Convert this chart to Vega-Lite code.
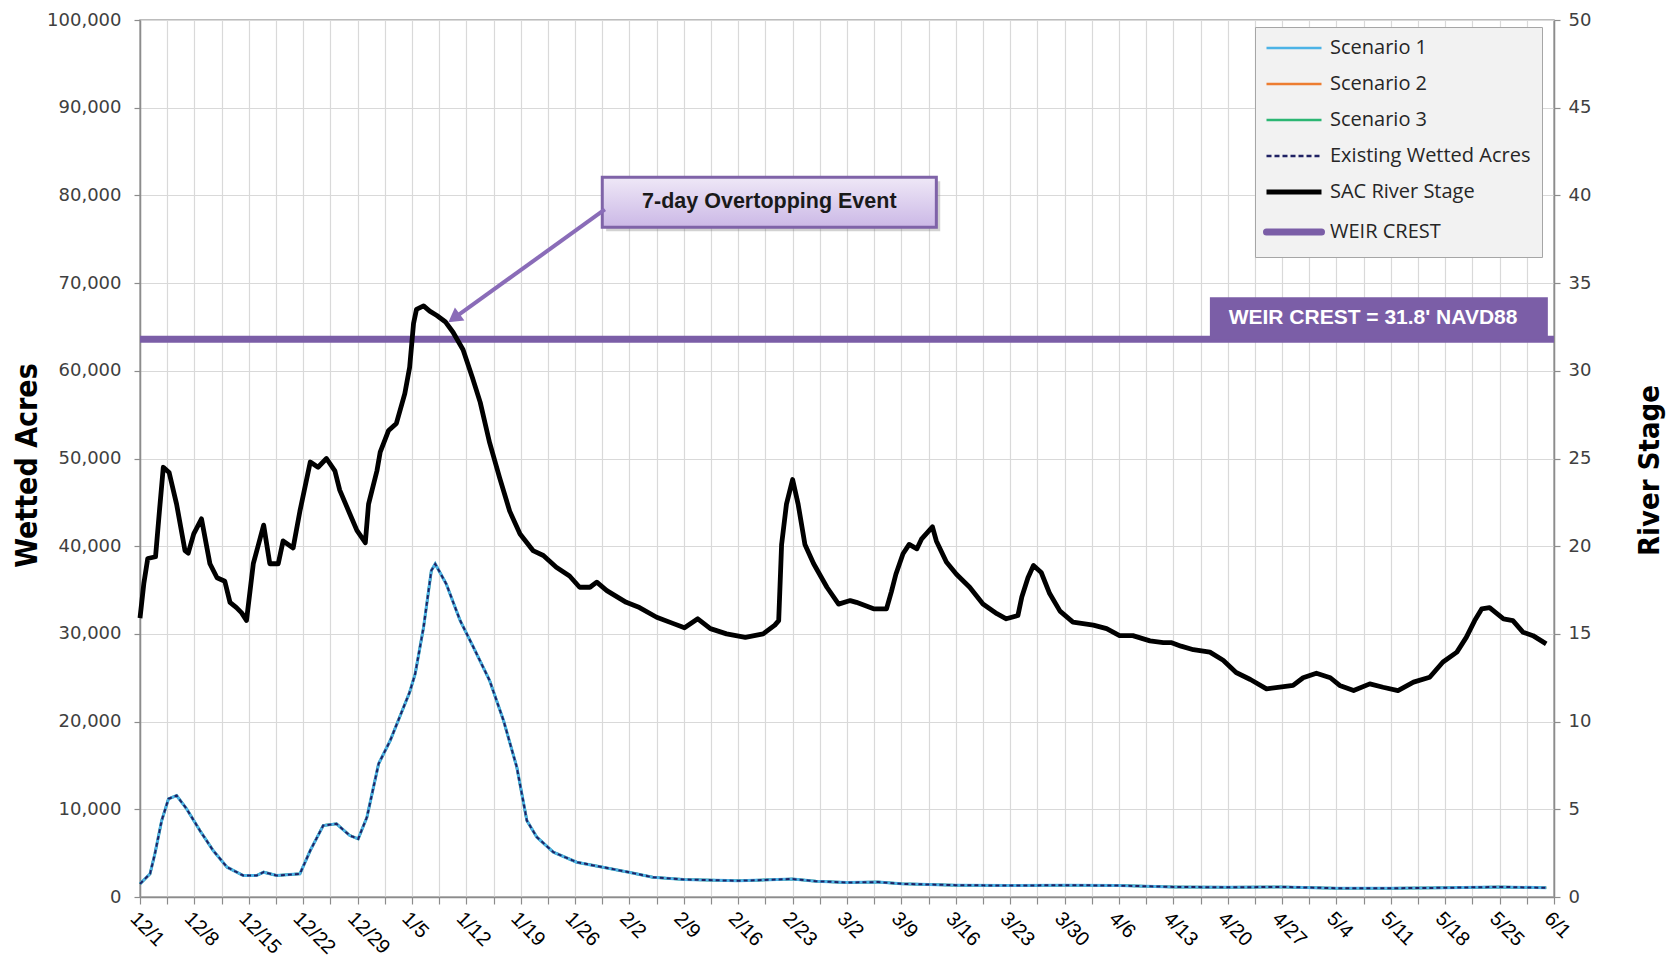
{
  "$schema": "https://vega.github.io/schema/vega-lite/v6.json",
  "width": 1414,
  "height": 877,
  "autosize": {"type": "none"},
  "padding": {"left": 140, "top": 20, "right": 124, "bottom": 70},
  "background": "#ffffff",
  "config": {
    "view": {"stroke": "#a6a6a6", "strokeWidth": 1.5},
    "axis": {"gridColor": "#d9d9d9", "gridWidth": 1.2, "domainColor": "#8c8c8c", "domainWidth": 1.5, "tickColor": "#8c8c8c", "tickWidth": 1.2}
  },
  "datasets": {
    "stage": [
      {"date": "2013-12-01T00:00", "stage": 15.9},
      {"date": "2013-12-01T12:00", "stage": 17.9},
      {"date": "2013-12-02T00:00", "stage": 19.3},
      {"date": "2013-12-03T00:00", "stage": 19.4},
      {"date": "2013-12-03T12:00", "stage": 22.0},
      {"date": "2013-12-04T00:00", "stage": 24.5},
      {"date": "2013-12-04T18:00", "stage": 24.2},
      {"date": "2013-12-05T17:00", "stage": 22.4},
      {"date": "2013-12-06T19:00", "stage": 19.75},
      {"date": "2013-12-07T05:00", "stage": 19.6},
      {"date": "2013-12-07T22:00", "stage": 20.7},
      {"date": "2013-12-08T22:00", "stage": 21.56},
      {"date": "2013-12-10T00:00", "stage": 19.0},
      {"date": "2013-12-10T22:00", "stage": 18.2},
      {"date": "2013-12-11T22:00", "stage": 18.0},
      {"date": "2013-12-12T14:00", "stage": 16.8},
      {"date": "2013-12-13T10:00", "stage": 16.5},
      {"date": "2013-12-14T02:00", "stage": 16.2},
      {"date": "2013-12-14T17:00", "stage": 15.76},
      {"date": "2013-12-15T14:00", "stage": 19.0},
      {"date": "2013-12-16T22:00", "stage": 21.2},
      {"date": "2013-12-17T17:00", "stage": 19.0},
      {"date": "2013-12-18T19:00", "stage": 19.0},
      {"date": "2013-12-19T10:00", "stage": 20.3},
      {"date": "2013-12-20T17:00", "stage": 19.9},
      {"date": "2013-12-21T14:00", "stage": 22.0},
      {"date": "2013-12-22T22:00", "stage": 24.8},
      {"date": "2013-12-23T22:00", "stage": 24.5},
      {"date": "2013-12-25T00:00", "stage": 25.0},
      {"date": "2013-12-26T02:00", "stage": 24.3},
      {"date": "2013-12-26T17:00", "stage": 23.2},
      {"date": "2013-12-28T00:00", "stage": 21.85},
      {"date": "2013-12-28T22:00", "stage": 20.9},
      {"date": "2013-12-30T00:00", "stage": 20.2},
      {"date": "2013-12-30T10:00", "stage": 22.4},
      {"date": "2013-12-31T12:00", "stage": 24.3},
      {"date": "2013-12-31T22:00", "stage": 25.36},
      {"date": "2014-01-02T00:00", "stage": 26.6},
      {"date": "2014-01-03T00:00", "stage": 27.0},
      {"date": "2014-01-04T02:00", "stage": 28.7},
      {"date": "2014-01-04T17:00", "stage": 30.2},
      {"date": "2014-01-05T05:00", "stage": 32.7},
      {"date": "2014-01-05T14:00", "stage": 33.5},
      {"date": "2014-01-06T12:00", "stage": 33.7},
      {"date": "2014-01-07T07:00", "stage": 33.4},
      {"date": "2014-01-08T05:00", "stage": 33.15},
      {"date": "2014-01-09T07:00", "stage": 32.8},
      {"date": "2014-01-10T07:00", "stage": 32.2},
      {"date": "2014-01-11T14:00", "stage": 31.2},
      {"date": "2014-01-12T19:00", "stage": 29.6},
      {"date": "2014-01-13T19:00", "stage": 28.2},
      {"date": "2014-01-15T00:00", "stage": 25.9},
      {"date": "2014-01-16T07:00", "stage": 23.9},
      {"date": "2014-01-17T14:00", "stage": 22.0},
      {"date": "2014-01-18T22:00", "stage": 20.7},
      {"date": "2014-01-20T14:00", "stage": 19.75},
      {"date": "2014-01-21T22:00", "stage": 19.47},
      {"date": "2014-01-23T14:00", "stage": 18.8},
      {"date": "2014-01-25T07:00", "stage": 18.3},
      {"date": "2014-01-26T14:00", "stage": 17.66},
      {"date": "2014-01-27T22:00", "stage": 17.66},
      {"date": "2014-01-28T19:00", "stage": 17.95},
      {"date": "2014-01-30T02:00", "stage": 17.47},
      {"date": "2014-02-01T14:00", "stage": 16.8},
      {"date": "2014-02-03T07:00", "stage": 16.5},
      {"date": "2014-02-05T12:00", "stage": 15.95},
      {"date": "2014-02-07T14:00", "stage": 15.6},
      {"date": "2014-02-09T02:00", "stage": 15.35},
      {"date": "2014-02-10T19:00", "stage": 15.86},
      {"date": "2014-02-12T10:00", "stage": 15.3},
      {"date": "2014-02-14T12:00", "stage": 15.0},
      {"date": "2014-02-16T22:00", "stage": 14.8},
      {"date": "2014-02-19T05:00", "stage": 15.0},
      {"date": "2014-02-20T17:00", "stage": 15.5},
      {"date": "2014-02-21T05:00", "stage": 15.76},
      {"date": "2014-02-21T14:00", "stage": 20.1},
      {"date": "2014-02-22T05:00", "stage": 22.4},
      {"date": "2014-02-23T00:00", "stage": 23.8},
      {"date": "2014-02-23T17:00", "stage": 22.4},
      {"date": "2014-02-24T14:00", "stage": 20.1},
      {"date": "2014-02-25T17:00", "stage": 19.0},
      {"date": "2014-02-27T10:00", "stage": 17.66},
      {"date": "2014-02-28T22:00", "stage": 16.7},
      {"date": "2014-03-02T10:00", "stage": 16.9},
      {"date": "2014-03-03T05:00", "stage": 16.8},
      {"date": "2014-03-05T10:00", "stage": 16.43},
      {"date": "2014-03-07T02:00", "stage": 16.43},
      {"date": "2014-03-07T17:00", "stage": 17.4},
      {"date": "2014-03-08T07:00", "stage": 18.4},
      {"date": "2014-03-09T05:00", "stage": 19.57},
      {"date": "2014-03-10T00:00", "stage": 20.1},
      {"date": "2014-03-11T00:00", "stage": 19.85},
      {"date": "2014-03-11T14:00", "stage": 20.4},
      {"date": "2014-03-13T00:00", "stage": 21.1},
      {"date": "2014-03-13T12:00", "stage": 20.3},
      {"date": "2014-03-14T19:00", "stage": 19.1},
      {"date": "2014-03-16T02:00", "stage": 18.4},
      {"date": "2014-03-17T19:00", "stage": 17.66},
      {"date": "2014-03-19T12:00", "stage": 16.7},
      {"date": "2014-03-21T07:00", "stage": 16.15},
      {"date": "2014-03-22T12:00", "stage": 15.86},
      {"date": "2014-03-24T00:00", "stage": 16.05},
      {"date": "2014-03-24T12:00", "stage": 17.1},
      {"date": "2014-03-25T07:00", "stage": 18.2},
      {"date": "2014-03-26T00:00", "stage": 18.9},
      {"date": "2014-03-27T00:00", "stage": 18.5},
      {"date": "2014-03-28T02:00", "stage": 17.3},
      {"date": "2014-03-29T10:00", "stage": 16.3},
      {"date": "2014-03-31T02:00", "stage": 15.67},
      {"date": "2014-04-02T17:00", "stage": 15.5},
      {"date": "2014-04-04T10:00", "stage": 15.3},
      {"date": "2014-04-06T02:00", "stage": 14.9},
      {"date": "2014-04-07T19:00", "stage": 14.9},
      {"date": "2014-04-10T00:00", "stage": 14.6},
      {"date": "2014-04-11T17:00", "stage": 14.5},
      {"date": "2014-04-12T19:00", "stage": 14.5},
      {"date": "2014-04-14T00:00", "stage": 14.3},
      {"date": "2014-04-15T14:00", "stage": 14.1},
      {"date": "2014-04-17T17:00", "stage": 13.96},
      {"date": "2014-04-19T10:00", "stage": 13.5},
      {"date": "2014-04-21T02:00", "stage": 12.8},
      {"date": "2014-04-22T22:00", "stage": 12.4},
      {"date": "2014-04-25T00:00", "stage": 11.87},
      {"date": "2014-04-26T17:00", "stage": 11.96},
      {"date": "2014-04-28T10:00", "stage": 12.06},
      {"date": "2014-04-29T17:00", "stage": 12.5},
      {"date": "2014-05-01T10:00", "stage": 12.76},
      {"date": "2014-05-03T05:00", "stage": 12.5},
      {"date": "2014-05-04T10:00", "stage": 12.06},
      {"date": "2014-05-06T05:00", "stage": 11.77},
      {"date": "2014-05-08T07:00", "stage": 12.15},
      {"date": "2014-05-10T00:00", "stage": 11.96},
      {"date": "2014-05-11T22:00", "stage": 11.77},
      {"date": "2014-05-13T22:00", "stage": 12.25},
      {"date": "2014-05-16T00:00", "stage": 12.53},
      {"date": "2014-05-17T17:00", "stage": 13.4},
      {"date": "2014-05-19T12:00", "stage": 13.96},
      {"date": "2014-05-20T17:00", "stage": 14.8},
      {"date": "2014-05-21T19:00", "stage": 15.76},
      {"date": "2014-05-22T17:00", "stage": 16.43},
      {"date": "2014-05-23T17:00", "stage": 16.5},
      {"date": "2014-05-25T12:00", "stage": 15.86},
      {"date": "2014-05-26T17:00", "stage": 15.76},
      {"date": "2014-05-28T00:00", "stage": 15.1},
      {"date": "2014-05-29T07:00", "stage": 14.9},
      {"date": "2014-05-31T00:00", "stage": 14.43}
    ],
    "acres": [
      {"date": "2013-12-01T00:00", "acres": 1500},
      {"date": "2013-12-02T07:00", "acres": 2640},
      {"date": "2013-12-02T22:00", "acres": 4920},
      {"date": "2013-12-03T19:00", "acres": 8720},
      {"date": "2013-12-04T16:00", "acres": 11190},
      {"date": "2013-12-05T17:00", "acres": 11570},
      {"date": "2013-12-07T00:00", "acres": 10050},
      {"date": "2013-12-08T17:00", "acres": 7580},
      {"date": "2013-12-10T10:00", "acres": 5300},
      {"date": "2013-12-12T05:00", "acres": 3400},
      {"date": "2013-12-14T07:00", "acres": 2450},
      {"date": "2013-12-16T00:00", "acres": 2450},
      {"date": "2013-12-16T22:00", "acres": 2830},
      {"date": "2013-12-18T14:00", "acres": 2450},
      {"date": "2013-12-21T14:00", "acres": 2640},
      {"date": "2013-12-22T22:00", "acres": 5300},
      {"date": "2013-12-24T14:00", "acres": 8150},
      {"date": "2013-12-26T07:00", "acres": 8340},
      {"date": "2013-12-28T00:00", "acres": 7010},
      {"date": "2013-12-29T02:00", "acres": 6630},
      {"date": "2013-12-30T05:00", "acres": 9100},
      {"date": "2013-12-31T17:00", "acres": 15180},
      {"date": "2014-01-02T05:00", "acres": 17840},
      {"date": "2014-01-03T12:00", "acres": 20690},
      {"date": "2014-01-04T17:00", "acres": 23350},
      {"date": "2014-01-05T10:00", "acres": 25440},
      {"date": "2014-01-06T12:00", "acres": 30760},
      {"date": "2014-01-07T12:00", "acres": 37220},
      {"date": "2014-01-08T00:00", "acres": 37980},
      {"date": "2014-01-09T10:00", "acres": 35700},
      {"date": "2014-01-11T05:00", "acres": 31520},
      {"date": "2014-01-12T22:00", "acres": 28480},
      {"date": "2014-01-15T00:00", "acres": 24680},
      {"date": "2014-01-16T19:00", "acres": 20120},
      {"date": "2014-01-18T12:00", "acres": 14800},
      {"date": "2014-01-19T19:00", "acres": 8720},
      {"date": "2014-01-21T02:00", "acres": 6820},
      {"date": "2014-01-23T05:00", "acres": 5110},
      {"date": "2014-01-26T05:00", "acres": 3970},
      {"date": "2014-01-29T14:00", "acres": 3400},
      {"date": "2014-02-02T02:00", "acres": 2800},
      {"date": "2014-02-05T00:00", "acres": 2250},
      {"date": "2014-02-09T00:00", "acres": 2000},
      {"date": "2014-02-16T00:00", "acres": 1850},
      {"date": "2014-02-23T00:00", "acres": 2050},
      {"date": "2014-02-26T00:00", "acres": 1800},
      {"date": "2014-03-02T00:00", "acres": 1650},
      {"date": "2014-03-06T00:00", "acres": 1700},
      {"date": "2014-03-09T00:00", "acres": 1500},
      {"date": "2014-03-16T00:00", "acres": 1350},
      {"date": "2014-03-23T00:00", "acres": 1300},
      {"date": "2014-03-30T00:00", "acres": 1350},
      {"date": "2014-04-06T00:00", "acres": 1300},
      {"date": "2014-04-13T00:00", "acres": 1150},
      {"date": "2014-04-20T00:00", "acres": 1100},
      {"date": "2014-04-27T00:00", "acres": 1150},
      {"date": "2014-05-04T00:00", "acres": 1000},
      {"date": "2014-05-11T00:00", "acres": 1000},
      {"date": "2014-05-18T00:00", "acres": 1050},
      {"date": "2014-05-25T00:00", "acres": 1150},
      {"date": "2014-05-31T00:00", "acres": 1050}
    ]
  },
  "encoding": {
    "x": {
      "field": "date",
      "type": "temporal",
      "scale": {"domain": [{"year": 2013, "month": 12, "date": 1}, {"year": 2014, "month": 6, "date": 1}]},
      "axis": {
        "title": null,
        "grid": true,
        "values": [
          {"year": 2013, "month": 12, "date": 1}, {"year": 2013, "month": 12, "date": 4, "hours": 12},
          {"year": 2013, "month": 12, "date": 8}, {"year": 2013, "month": 12, "date": 11, "hours": 12},
          {"year": 2013, "month": 12, "date": 15}, {"year": 2013, "month": 12, "date": 18, "hours": 12},
          {"year": 2013, "month": 12, "date": 22}, {"year": 2013, "month": 12, "date": 25, "hours": 12},
          {"year": 2013, "month": 12, "date": 29}, {"year": 2014, "month": 1, "date": 1, "hours": 12},
          {"year": 2014, "month": 1, "date": 5}, {"year": 2014, "month": 1, "date": 8, "hours": 12},
          {"year": 2014, "month": 1, "date": 12}, {"year": 2014, "month": 1, "date": 15, "hours": 12},
          {"year": 2014, "month": 1, "date": 19}, {"year": 2014, "month": 1, "date": 22, "hours": 12},
          {"year": 2014, "month": 1, "date": 26}, {"year": 2014, "month": 1, "date": 29, "hours": 12},
          {"year": 2014, "month": 2, "date": 2}, {"year": 2014, "month": 2, "date": 5, "hours": 12},
          {"year": 2014, "month": 2, "date": 9}, {"year": 2014, "month": 2, "date": 12, "hours": 12},
          {"year": 2014, "month": 2, "date": 16}, {"year": 2014, "month": 2, "date": 19, "hours": 12},
          {"year": 2014, "month": 2, "date": 23}, {"year": 2014, "month": 2, "date": 26, "hours": 12},
          {"year": 2014, "month": 3, "date": 2}, {"year": 2014, "month": 3, "date": 5, "hours": 12},
          {"year": 2014, "month": 3, "date": 9}, {"year": 2014, "month": 3, "date": 12, "hours": 12},
          {"year": 2014, "month": 3, "date": 16}, {"year": 2014, "month": 3, "date": 19, "hours": 12},
          {"year": 2014, "month": 3, "date": 23}, {"year": 2014, "month": 3, "date": 26, "hours": 12},
          {"year": 2014, "month": 3, "date": 30}, {"year": 2014, "month": 4, "date": 2, "hours": 12},
          {"year": 2014, "month": 4, "date": 6}, {"year": 2014, "month": 4, "date": 9, "hours": 12},
          {"year": 2014, "month": 4, "date": 13}, {"year": 2014, "month": 4, "date": 16, "hours": 12},
          {"year": 2014, "month": 4, "date": 20}, {"year": 2014, "month": 4, "date": 23, "hours": 12},
          {"year": 2014, "month": 4, "date": 27}, {"year": 2014, "month": 4, "date": 30, "hours": 12},
          {"year": 2014, "month": 5, "date": 4}, {"year": 2014, "month": 5, "date": 7, "hours": 12},
          {"year": 2014, "month": 5, "date": 11}, {"year": 2014, "month": 5, "date": 14, "hours": 12},
          {"year": 2014, "month": 5, "date": 18}, {"year": 2014, "month": 5, "date": 21, "hours": 12},
          {"year": 2014, "month": 5, "date": 25}, {"year": 2014, "month": 5, "date": 28, "hours": 12},
          {"year": 2014, "month": 6, "date": 1}
        ],
        "labelExpr": "hours(datum.value) == 12 ? '' : timeFormat(datum.value, '%-m/%-d')",
        "labelAngle": 45,
        "labelFont": "Liberation Sans",
        "labelFontSize": 20,
        "labelColor": "#000000",
        "labelPadding": 4,
        "labelOverlap": false,
        "labelBound": false,
        "tickSize": 7,
        "encode": {"ticks": {"update": {"opacity": {"signal": "hours(datum.value) == 12 ? 0 : 1"}}}}
      }
    }
  },
  "layer": [
    {
      "data": {"name": "acres"},
      "encoding": {
        "y": {
          "field": "acres",
          "type": "quantitative",
          "scale": {"domain": [0, 100000]},
          "axis": {
            "orient": "left",
            "title": "Wetted Acres",
            "format": ",d",
            "values": [0, 10000, 20000, 30000, 40000, 50000, 60000, 70000, 80000, 90000, 100000],
            "grid": true,
            "labelFont": "DejaVu Sans",
            "labelFontSize": 18,
            "labelColor": "#404040",
            "labelPadding": 13,
            "tickSize": 6,
            "titleFont": "Liberation Sans Narrow, DejaVu Sans Condensed, sans-serif",
            "titleFontSize": 30,
            "titleFontWeight": "bold",
            "titleColor": "#000000",
            "titlePadding": 4,
            "titleY": 445
          }
        }
      },
      "layer": [
        {
          "mark": {"type": "line", "strokeWidth": 2.5},
          "encoding": {
            "color": {
              "datum": "Scenario 2",
              "type": "nominal",
              "scale": {
                "domain": ["Scenario 1", "Scenario 2", "Scenario 3", "Existing Wetted Acres", "SAC River Stage", "WEIR CREST"],
                "range": ["#4cb3e6", "#ed7d31", "#2bb673", "#1f2163", "#000000", "#7b5ea7"]
              },
              "legend": {
                "title": null,
                "orient": "none",
                "legendX": 1115,
                "legendY": 7,
                "symbolType": "stroke",
                "symbolSize": 3025,
                "symbolStrokeWidth": 2.5,
                "symbolOffset": 18,
                "labelFont": "Open Sans",
                "labelFontSize": 20,
                "labelColor": "#262626",
                "labelOffset": 26,
                "labelLimit": 400,
                "rowPadding": 16,
                "padding": 11,
                "fillColor": "#f2f2f2",
                "strokeColor": "#a6a6a6",
                "encode": {
                  "symbols": {
                    "update": {
                      "strokeWidth": {"signal": "datum.value == 'SAC River Stage' ? 5 : datum.value == 'WEIR CREST' ? 7 : 2.5"},
                      "strokeDash": {"signal": "datum.value == 'Existing Wetted Acres' ? [5, 3] : [1, 0]"},
                      "strokeCap": {"signal": "datum.value == 'WEIR CREST' ? 'round' : 'butt'"}
                    }
                  }
                }
              }
            }
          }
        },
        {
          "mark": {"type": "line", "strokeWidth": 2.5},
          "encoding": {"color": {"datum": "Scenario 3", "type": "nominal"}}
        },
        {
          "mark": {"type": "line", "strokeWidth": 3},
          "encoding": {"color": {"datum": "Scenario 1", "type": "nominal"}}
        },
        {
          "mark": {"type": "line", "strokeWidth": 2, "strokeDash": [4, 3]},
          "encoding": {"color": {"datum": "Existing Wetted Acres", "type": "nominal"}}
        }
      ]
    },
    {
      "encoding": {
        "y": {
          "field": "stage",
          "type": "quantitative",
          "scale": {"domain": [0, 50]},
          "axis": {
            "orient": "right",
            "title": "River Stage",
            "values": [0, 5, 10, 15, 20, 25, 30, 35, 40, 45, 50],
            "grid": false,
            "labelFont": "DejaVu Sans",
            "labelFontSize": 18,
            "labelColor": "#404040",
            "labelPadding": 8,
            "tickSize": 6,
            "titleFont": "Liberation Sans Narrow, DejaVu Sans Condensed, sans-serif",
            "titleFontSize": 29,
            "titleFontWeight": "bold",
            "titleColor": "#000000",
            "titleAngle": 270,
            "titleBaseline": "top",
            "titlePadding": 45,
            "titleY": 450
          }
        }
      },
      "layer": [
        {
          "data": {"values": [{"date": "2013-12-01T00:00", "date2": "2014-06-01T00:00", "stage": 31.8}]},
          "mark": {"type": "rule", "strokeWidth": 7},
          "encoding": {
            "x2": {"field": "date2"},
            "color": {"datum": "WEIR CREST", "type": "nominal"}
          }
        },
        {
          "data": {"name": "stage"},
          "mark": {"type": "line", "strokeWidth": 4.8, "strokeJoin": "round"},
          "encoding": {"color": {"datum": "SAC River Stage", "type": "nominal"}}
        },
        {
          "data": {"values": [{"date": "2014-04-17T17:00", "date2": "2014-05-31T05:00", "stage": 31.8, "stage2": 34.2}]},
          "mark": {"type": "rect", "color": "#7b5ea7"},
          "encoding": {"x2": {"field": "date2"}, "y2": {"field": "stage2"}}
        },
        {
          "data": {"values": [{"date": "2014-05-08T17:00", "stage": 33.0, "label": "WEIR CREST = 31.8' NAVD88"}]},
          "mark": {"type": "text", "color": "#ffffff", "font": "Liberation Sans", "fontSize": 21, "fontWeight": "bold", "align": "center", "baseline": "middle"},
          "encoding": {"text": {"field": "label"}}
        },
        {
          "data": {"values": [{"date": "2014-01-30T00:00", "date2": "2014-03-14T00:00", "stage": 37.95, "stage2": 40.8}]},
          "mark": {"type": "rect", "color": "#7f7f7f", "opacity": 0.35},
          "encoding": {"x2": {"field": "date2"}, "y2": {"field": "stage2"}}
        },
        {
          "data": {"values": [{"date": "2014-01-29T12:00", "date2": "2014-03-13T12:00", "stage": 38.18, "stage2": 41.04}]},
          "mark": {
            "type": "rect",
            "stroke": "#7f63a8",
            "strokeWidth": 3,
            "fill": {"gradient": "linear", "x1": 0, "y1": 0, "x2": 0, "y2": 1, "stops": [{"offset": 0, "color": "#efe8f7"}, {"offset": 1, "color": "#cbb8e6"}]}
          },
          "encoding": {"x2": {"field": "date2"}, "y2": {"field": "stage2"}}
        },
        {
          "data": {"values": [{"date": "2014-02-20T00:00", "stage": 39.65, "label": "7-day Overtopping Event"}]},
          "mark": {"type": "text", "color": "#1a1a1a", "font": "Liberation Sans", "fontSize": 21.5, "fontWeight": "bold", "align": "center", "baseline": "middle"},
          "encoding": {"text": {"field": "label"}}
        },
        {
          "data": {"values": [{"date": "2014-01-29T20:00", "stage": 39.2}, {"date": "2014-01-10T10:00", "stage": 33.0}]},
          "mark": {"type": "line", "color": "#8a6cb8", "strokeWidth": 4},
          "encoding": {}
        },
        {
          "data": {"values": [{"date": "2014-01-10T10:00", "stage": 33.0}]},
          "mark": {"type": "point", "shape": "triangle-up", "angle": 234, "size": 260, "filled": true, "color": "#8a6cb8", "opacity": 1},
          "encoding": {}
        }
      ]
    }
  ],
  "resolve": {"scale": {"y": "independent"}}
}
